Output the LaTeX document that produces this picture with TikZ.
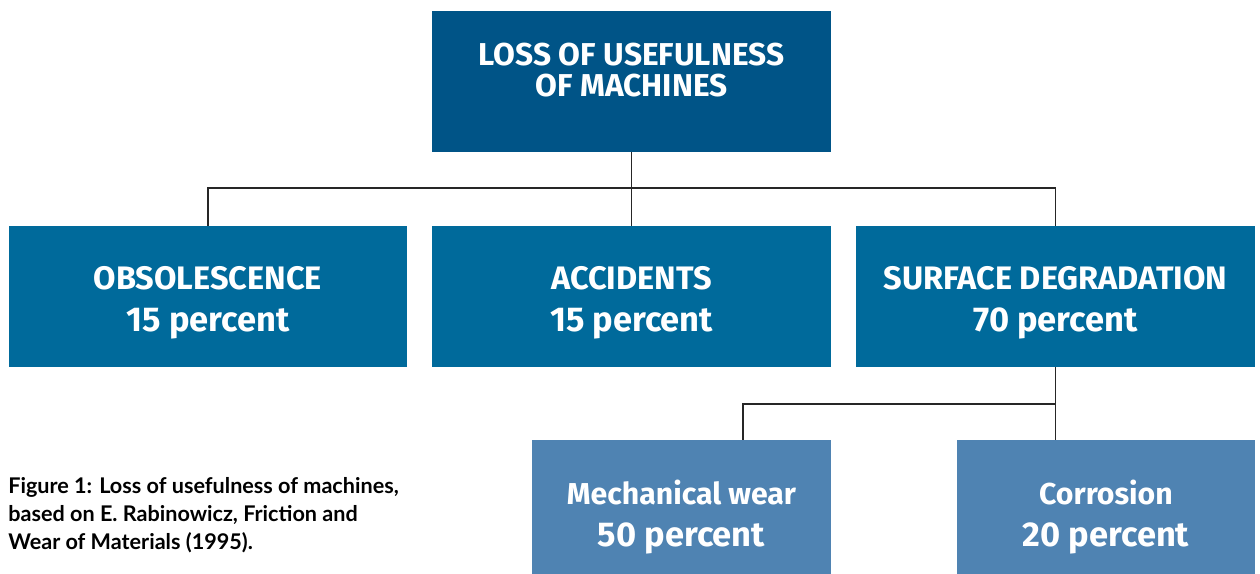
\documentclass[tikz,border=0pt]{standalone}
\usepackage{fontspec}
\setmainfont{Fira Sans}
\newfontfamily\notefont{Lato}
\definecolor{topblue}{RGB}{0,84,135}
\definecolor{midblue}{RGB}{0,106,155}
\definecolor{lightblue}{RGB}{79,131,178}
\newcommand{\pct}{\fontsize{19.6}{24.2}\selectfont}

\begin{document}
\begin{tikzpicture}[
    x=0.02cm, y=-0.02cm,
    box/.style={rectangle, inner sep=0pt, minimum width=7.98cm, minimum height=2.82cm},
    lossbox/.style={box, fill=topblue},
    causebox/.style={box, fill=midblue},
    wearbox/.style={box, fill=lightblue, minimum width=5.98cm},
    boxtext/.style={text=white, align=center, font=\bfseries\fontsize{18.5}{24}\selectfont},
    title/.style={boxtext, font=\bfseries\fontsize{18}{18}\selectfont},
    link/.style={black!85, line width=0.7pt}
]
\useasboundingbox (0,0) rectangle (1260,574);

% Top of the tree
\node[lossbox, label={[title, yshift=0.23cm]center:LOSS OF USEFULNESS\\OF MACHINES}] (loss) at (631.5,81.5) {};

% Main causes
\node[causebox, label={[boxtext, yshift=-0.13cm]center:OBSOLESCENCE\\\pct 15 percent}] (obs) at (208,296.5) {};
\node[causebox, label={[boxtext, yshift=-0.13cm]center:ACCIDENTS\\\pct 15 percent}] (acc) at (631.5,296.5) {};
\node[causebox, label={[boxtext, yshift=-0.13cm]center:SURFACE DEGRADATION\\\pct 70 percent}] (surf) at (1055.5,296.5) {};

% Surface degradation split
\node[wearbox, label={[boxtext, font=\bfseries\fontsize{17.2}{24}\selectfont, yshift=-0.13cm]center:Mechanical wear\\\pct 50 percent}] (mech) at (681.5,510.5) {};
\node[wearbox, label={[boxtext, font=\bfseries\fontsize{17.2}{24}\selectfont, yshift=-0.13cm]center:Corrosion\\\pct 20 percent}] (corr) at (1106,510.5) {};

% Connectors
\draw[link] (obs.north) |- (loss.south |- 0,188) -| (surf.north);
\draw[link] (loss.south) -- (acc.north);
\coordinate (fork) at (1055.5,404);
\draw[link] (surf.south) -- (surf.south |- corr.north);
\draw[link] (fork) -| ([xshift=1.23cm]mech.north);

% Caption
\node[anchor=north west, align=left, inner sep=0pt, font=\notefont\bfseries\fontsize{12.3}{16}\selectfont] (note) at (8,477)
  {Figure 1: Loss of usefulness of machines,\\based on E. Rabinowicz, Friction and\\Wear of Materials (1995).};
\end{tikzpicture}
\end{document}
